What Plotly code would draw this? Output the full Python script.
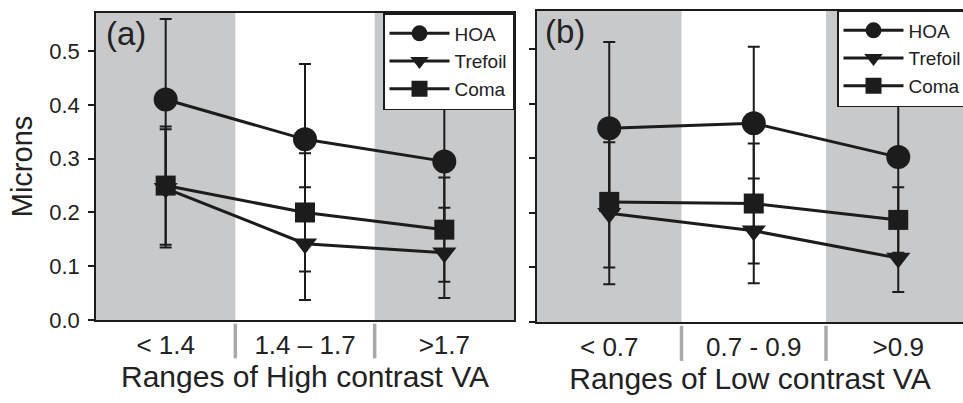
import plotly.graph_objects as go

# ---------------- data ----------------
cats_a = ["< 1.4", "1.4 – 1.7", ">1.7"]
cats_b = ["< 0.7", "0.7 - 0.9", ">0.9"]
series = ["HOA", "Trefoil", "Coma"]

hoa_a = [0.41, 0.336, 0.295]
hoa_a_err = [0.15, 0.14, 0.12]
tre_a = [0.245, 0.142, 0.125]
tre_a_err = [0.11, 0.105, 0.084]
com_a = [0.25, 0.2, 0.168]
com_a_err = [0.11, 0.11, 0.097]

hoa_b = [0.355, 0.364, 0.302]
hoa_b_err = [0.158, 0.14, 0.12]
tre_b = [0.199, 0.167, 0.117]
tre_b_err = [0.13, 0.096, 0.062]
com_b = [0.22, 0.217, 0.187]
com_b_err = [0.12, 0.11, 0.06]

y_ticks = [0.0, 0.1, 0.2, 0.3, 0.4, 0.5]

# ---------------- style ----------------
W, H = 963, 403
INK = "#1c1c1c"
TXT = "#222222"
BAND = "#c8c9cb"
SEP = "#a9a9a9"
FONT = "Liberation Sans, Arial, sans-serif"
symbols = {"HOA": "circle", "Trefoil": "triangle-down", "Coma": "square"}
sizes = {"HOA": 24, "Trefoil": 21, "Coma": 20}

fig = go.Figure()

def add_panel(vals, errs, xa, ya, legend):
    for name, v, e in zip(series, vals, errs):
        fig.add_trace(go.Scatter(
            x=list(range(len(v))), y=v, name=name,
            mode="lines+markers",
            xaxis=xa, yaxis=ya, legend=legend,
            line=dict(color=INK, width=3),
            marker=dict(symbol=symbols[name], size=sizes[name], color=INK,
                        line=dict(width=0)),
            error_y=dict(type="data", array=e, symmetric=True,
                         color=INK, thickness=2, width=6),
        ))

add_panel([hoa_a, tre_a, com_a], [hoa_a_err, tre_a_err, com_a_err], "x", "y", "legend")
add_panel([hoa_b, tre_b, com_b], [hoa_b_err, tre_b_err, com_b_err], "x2", "y2", "legend2")

# gray bands (first and last category) and separators under the axis
shapes = []
for xr, n in (("x", len(cats_a)), ("x2", len(cats_b))):
    yd = "y domain" if xr == "x" else "y2 domain"
    for i in (0, n - 1):
        shapes.append(dict(type="rect", xref=xr, yref=yd, x0=i - 0.5, x1=i + 0.5,
                           y0=0, y1=1, fillcolor=BAND, line=dict(width=0), layer="below"))
    for i in range(n - 1):
        shapes.append(dict(type="line", xref=xr, yref=yd, x0=i + 0.5, x1=i + 0.5,
                           y0=-0.012, y1=-0.125, line=dict(color=SEP, width=3.5)))

ax_common = dict(showgrid=False, zeroline=False, linecolor=INK, linewidth=1.5,
                 automargin=False)

fig.update_layout(
    width=W, height=H,
    margin=dict(l=0, r=0, t=0, b=0, autoexpand=False),
    paper_bgcolor="white", plot_bgcolor="white",
    font=dict(family=FONT, color=TXT),
    showlegend=True,
    shapes=shapes,
    xaxis=dict(domain=[96 / W, 514 / W], range=[-0.5, 2.5],
               tickvals=[0, 1, 2], ticktext=cats_a, ticks="", mirror=True, showline=True,
               tickfont=dict(size=26, color=TXT), ticklabelstandoff=1,
               title=dict(text="Ranges of High contrast VA", font=dict(size=30, color=TXT),
                          standoff=7),
               anchor="y", **ax_common),
    yaxis=dict(domain=[1 - 320 / H, 1 - 13 / H], range=[0, 0.571],
               tickvals=y_ticks, ticktext=[f"{t:.1f}" for t in y_ticks],
               ticks="outside", ticklen=6, tickwidth=1.5, tickcolor=INK,
               mirror=True, showline=True, ticklabelstandoff=4,
               tickfont=dict(size=22, color=TXT),
               title=dict(text="Microns", font=dict(size=29, color=TXT), standoff=8),
               anchor="x", **ax_common),
    xaxis2=dict(domain=[537 / W, 1.0], range=[-0.5, 2.448],
                tickvals=[0, 1, 2], ticktext=cats_b, ticks="", showline=True,
                mirror=True,
                tickfont=dict(size=26, color=TXT), ticklabelstandoff=1,
                title=dict(text="Ranges of Low contrast VA", font=dict(size=30, color=TXT),
                           standoff=7),
                anchor="y2", **ax_common),
    yaxis2=dict(domain=[1 - 322 / H, 1 - 11 / H], range=[0, 0.5696],
                tickvals=y_ticks, showticklabels=False,
                ticks="outside", ticklen=6, tickwidth=1.5, tickcolor=INK,
                showline=True, anchor="x2", **ax_common),
    legend=dict(x=514 / W, xanchor="right", y=1 - 13 / H, yanchor="top",
                bgcolor="white", bordercolor=INK, borderwidth=1.5,
                font=dict(size=19, color=TXT), itemwidth=60, tracegroupgap=0),
    legend2=dict(x=837 / W, xanchor="left", y=1 - 10 / H, yanchor="top",
                 bgcolor="white", bordercolor=INK, borderwidth=1.5,
                 font=dict(size=19, color=TXT), itemwidth=60, tracegroupgap=0),
    annotations=[
        dict(text="(a)", xref="x domain", yref="y domain", x=0.02, y=1.0,
             xanchor="left", yanchor="top", showarrow=False,
             font=dict(size=33, color=TXT)),
        dict(text="(b)", xref="x2 domain", yref="y2 domain", x=0.015, y=1.0,
             xanchor="left", yanchor="top", showarrow=False,
             font=dict(size=33, color=TXT)),
    ],
)

fig.write_html("out.html")
